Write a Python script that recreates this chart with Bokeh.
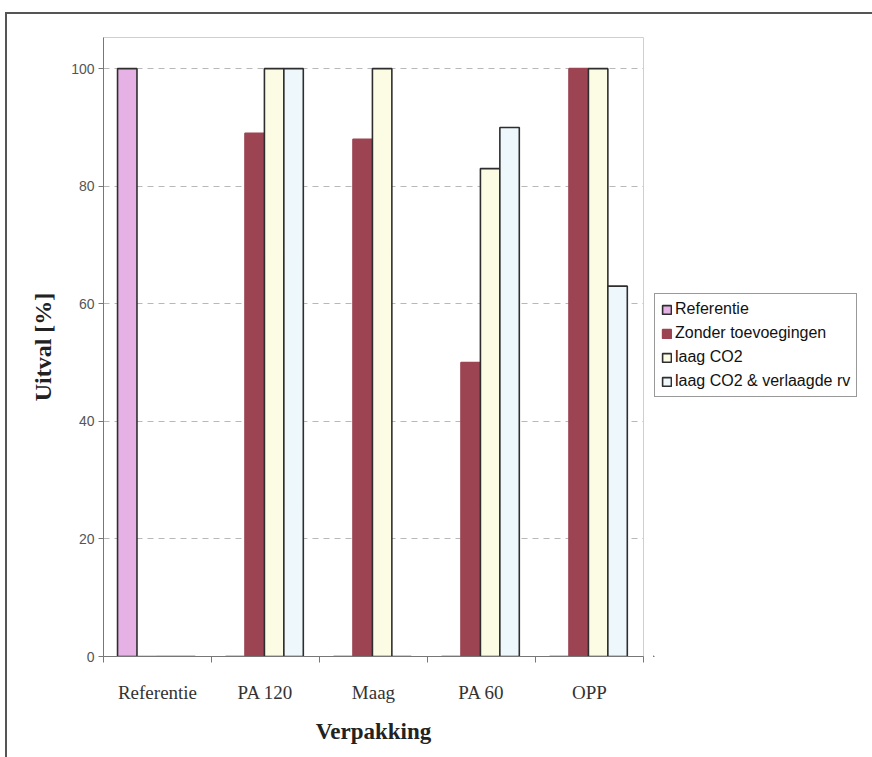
from bokeh.plotting import figure
from bokeh.layouts import row
from bokeh.models import (Range1d, FixedTicker, Legend, LegendItem, ColumnDataSource)
from bokeh.embed import file_html
from bokeh.resources import INLINE

# Verpakking categories and uitval (%) per treatment
categories = ["Referentie", "PA 120", "Maag", "PA 60", "OPP"]
series_names = ["Referentie", "Zonder toevoegingen", "laag CO2", "laag CO2 & verlaagde rv"]
referentie = [100, 0, 0, 0, 0]
zonder_toevoegingen = [0, 89, 88, 50, 100]
laag_co2 = [0, 100, 100, 83, 100]
laag_co2_rv = [0, 100, 0, 90, 63]
y_ticks = [0, 20, 40, 60, 80, 100]

series = [referentie, zonder_toevoegingen, laag_co2, laag_co2_rv]
fills = ["#e6b2e6", "#9c4452", "#fcfbe4", "#eef7fb"]
lines = ["#2e2e2e", "#9c4452", "#2e2e2e", "#2e2e2e"]

H = 743
p = figure(frame_width=540, frame_height=619, output_backend="svg", toolbar_location=None,
           x_range=Range1d(0, len(categories)), y_range=Range1d(0, 105.3),
           min_border_left=96, min_border_right=10, min_border_top=23,
           min_border_bottom=101)
p.background_fill_color = "white"
p.border_fill_color = "white"
p.outline_line_color = "#cfcfcf"

group_start, bar_w = 0.13, 0.18
for j, vals in enumerate(series):
    xs = [i + group_start + (j + 0.5) * bar_w for i in range(len(categories))]
    src = ColumnDataSource(dict(x=xs, top=vals))
    p.vbar(x="x", top="top", width=bar_w, source=src,
           fill_color=fills[j], line_color=lines[j], line_width=1.6)

# x axis: ticks at category borders, labels at category centres
xa = p.xaxis[0]
xa.ticker = FixedTicker(ticks=[i + 0.5 for i in range(len(categories))],
                        minor_ticks=list(range(len(categories) + 1)))
xa.major_label_overrides = {i + 0.5: c for i, c in enumerate(categories)}
xa.major_tick_line_color = None
xa.minor_tick_in = 0
xa.minor_tick_out = 6
xa.minor_tick_line_color = "#777"
xa.axis_line_color = "#777"
xa.major_label_standoff = 19
xa.major_label_text_font = "Liberation Serif"
xa.major_label_text_font_size = "19px"
xa.major_label_text_color = "#333"
xa.axis_label = "Verpakking"
xa.axis_label_text_font = "Liberation Serif"
xa.axis_label_text_font_style = "bold"
xa.axis_label_text_font_size = "23px"
xa.axis_label_text_color = "#222"
xa.axis_label_standoff = 13

ya = p.yaxis[0]
ya.ticker = FixedTicker(ticks=y_ticks, minor_ticks=[])
ya.major_tick_in = 0
ya.major_tick_out = 5
ya.major_tick_line_color = "#777"
ya.axis_line_color = "#777"
ya.major_label_standoff = 4
ya.major_label_text_font = "Liberation Sans"
ya.major_label_text_font_size = "14px"
ya.major_label_text_color = "#555"
ya.axis_label = "Uitval [%]"
ya.axis_label_text_font = "Liberation Serif"
ya.axis_label_text_font_style = "bold"
ya.axis_label_text_font_size = "24px"
ya.axis_label_text_color = "#222"
ya.axis_label_standoff = 12

p.xgrid.grid_line_color = None
p.ygrid.grid_line_color = "#b8b8b8"
p.ygrid.grid_line_dash = "6 5"
p.ygrid.grid_line_width = 1

# legend panel to the right of the chart
lw = 865 - (96 + 540 + 10)
pl = figure(width=lw, height=H, output_backend="svg", toolbar_location=None,
            x_range=Range1d(0, 1), y_range=Range1d(0, 1),
            x_axis_type=None, y_axis_type=None,
            min_border_left=0, min_border_right=0, min_border_top=0, min_border_bottom=0)
pl.outline_line_color = None
pl.xgrid.grid_line_color = None
pl.ygrid.grid_line_color = None
keys = []
for j in range(len(series)):
    # key glyphs sit fully outside the visible ranges; only their legend swatches show
    keys.append(pl.vbar(x=[-10], top=[-10], bottom=[-11], width=0.1,
                        fill_color=fills[j], line_color=lines[j], line_width=1.6))

legend = Legend(items=[LegendItem(label=n, renderers=[r]) for n, r in zip(series_names, keys)],
                location=(1, 259), orientation="vertical",
                border_line_color="#333", border_line_width=1,
                background_fill_color="white", background_fill_alpha=1,
                label_text_font="Liberation Sans", label_text_font_size="16px",
                label_text_color="#111", glyph_width=11, glyph_height=11,
                label_height=17, label_standoff=3, spacing=6, padding=6, margin=0)
pl.add_layout(legend, "center")

layout = row(p, pl)
layout.styles = {"margin-left": "5px", "margin-top": "12px",
                 "border-left": "2px solid #555", "border-top": "2px solid #555"}

open("out.html", "w").write(file_html(layout, INLINE))
